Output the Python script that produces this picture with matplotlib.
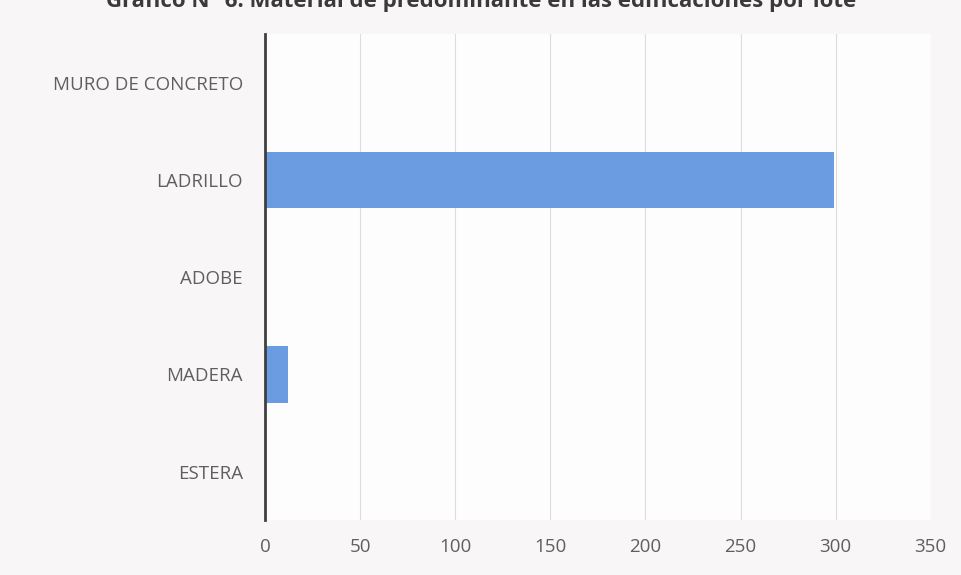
import matplotlib
matplotlib.use('Agg')
import matplotlib.pyplot as plt

# categories listed bottom to top
categories = ['ESTERA', 'MADERA', 'ADOBE', 'LADRILLO', 'MURO DE CONCRETO']
values = [0, 12, 0, 299, 0]
x_ticks = [0, 50, 100, 150, 200, 250, 300, 350]
title = 'Gráfico N° 6: Material de predominante en las edificaciones por lote'

plt.rcParams['font.family'] = ['Open Sans', 'DejaVu Sans']

fig = plt.figure(figsize=(9.62, 5.75), dpi=100, facecolor='#f9f6f7')
ax = fig.add_axes([0.2755, 0.095, 0.692, 0.846])
ax.set_facecolor('#fefdfd')

ax.barh(range(len(categories)), values, height=0.58, color='#6b9be0', zorder=3)

ax.set_xlim(0, 350)
ax.set_ylim(-0.5, len(categories) - 0.5)
ax.set_xticks(x_ticks)
ax.set_xticklabels([str(t) for t in x_ticks])
ax.set_yticks(range(len(categories)))
ax.set_yticklabels(categories)
ax.grid(axis='x', color='#dcdcdc', linewidth=0.8, zorder=0)
ax.tick_params(axis='both', length=0, labelsize=13.5, labelcolor='#5f5f5f')
ax.tick_params(axis='x', pad=13)
ax.tick_params(axis='y', pad=16)

for side in ['top', 'right', 'bottom']:
    ax.spines[side].set_visible(False)
ax.spines['left'].set_color('#404040')
ax.spines['left'].set_linewidth(2)
ax.spines['left'].set_zorder(4)

# the title is cut off at the top edge in the source picture
fig.text(0.5, 0.997, title, ha='center', va='center', fontsize=16,
         fontweight='bold', color='#3a3a3a')

fig.savefig('out.png', dpi=100, facecolor=fig.get_facecolor())
